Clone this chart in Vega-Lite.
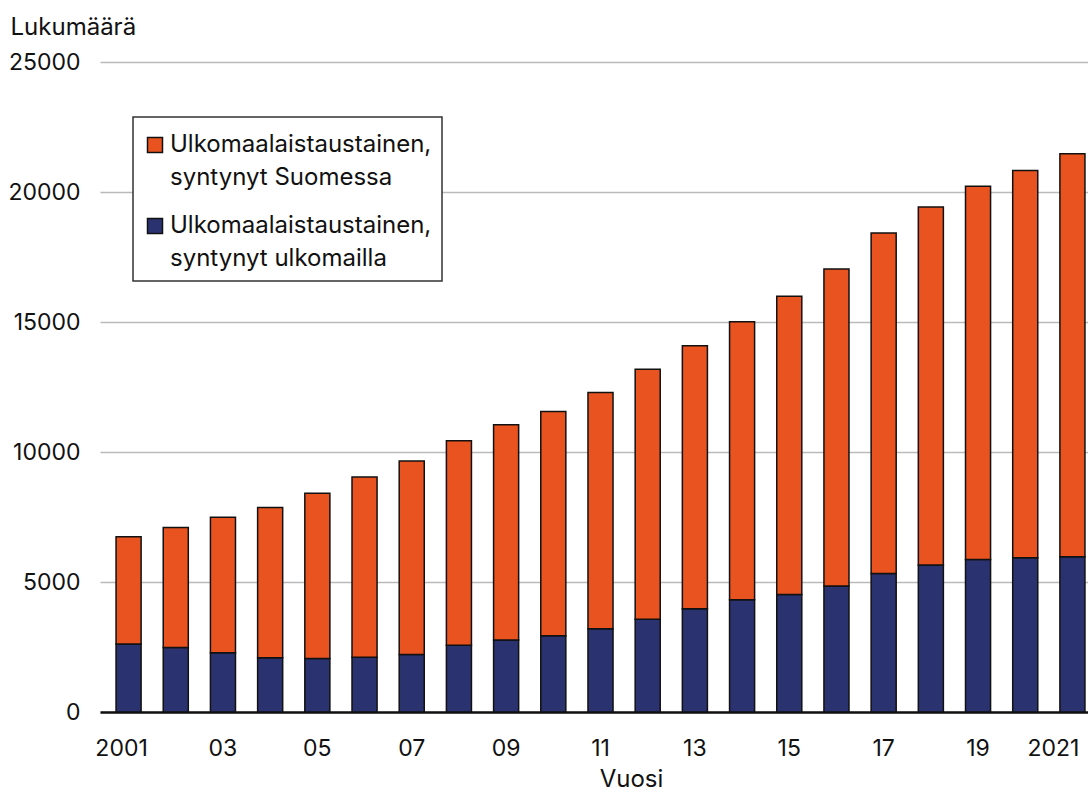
{
  "$schema": "https://vega.github.io/schema/vega-lite/v6.json",
  "autosize": {"type": "none"},
  "padding": {"left": 100, "top": 62, "right": 0, "bottom": 82},
  "width": 988,
  "height": 650,
  "background": "white",
  "config": {
    "font": "Inter",
    "view": {"stroke": null},
    "legend": {"strokeWidth": 1.5},
    "style": {"guide-label": {"lineHeight": 33}}
  },
  "data": {
    "values": [
      {"year": "2001", "series": "Ulkomaalaistaustainen, syntynyt ulkomailla", "value": 2620},
      {"year": "2001", "series": "Ulkomaalaistaustainen, syntynyt Suomessa", "value": 4120},
      {"year": "2002", "series": "Ulkomaalaistaustainen, syntynyt ulkomailla", "value": 2480},
      {"year": "2002", "series": "Ulkomaalaistaustainen, syntynyt Suomessa", "value": 4620},
      {"year": "2003", "series": "Ulkomaalaistaustainen, syntynyt ulkomailla", "value": 2280},
      {"year": "2003", "series": "Ulkomaalaistaustainen, syntynyt Suomessa", "value": 5210},
      {"year": "2004", "series": "Ulkomaalaistaustainen, syntynyt ulkomailla", "value": 2090},
      {"year": "2004", "series": "Ulkomaalaistaustainen, syntynyt Suomessa", "value": 5780},
      {"year": "2005", "series": "Ulkomaalaistaustainen, syntynyt ulkomailla", "value": 2060},
      {"year": "2005", "series": "Ulkomaalaistaustainen, syntynyt Suomessa", "value": 6350},
      {"year": "2006", "series": "Ulkomaalaistaustainen, syntynyt ulkomailla", "value": 2110},
      {"year": "2006", "series": "Ulkomaalaistaustainen, syntynyt Suomessa", "value": 6930},
      {"year": "2007", "series": "Ulkomaalaistaustainen, syntynyt ulkomailla", "value": 2210},
      {"year": "2007", "series": "Ulkomaalaistaustainen, syntynyt Suomessa", "value": 7440},
      {"year": "2008", "series": "Ulkomaalaistaustainen, syntynyt ulkomailla", "value": 2570},
      {"year": "2008", "series": "Ulkomaalaistaustainen, syntynyt Suomessa", "value": 7860},
      {"year": "2009", "series": "Ulkomaalaistaustainen, syntynyt ulkomailla", "value": 2770},
      {"year": "2009", "series": "Ulkomaalaistaustainen, syntynyt Suomessa", "value": 8280},
      {"year": "2010", "series": "Ulkomaalaistaustainen, syntynyt ulkomailla", "value": 2930},
      {"year": "2010", "series": "Ulkomaalaistaustainen, syntynyt Suomessa", "value": 8630},
      {"year": "2011", "series": "Ulkomaalaistaustainen, syntynyt ulkomailla", "value": 3200},
      {"year": "2011", "series": "Ulkomaalaistaustainen, syntynyt Suomessa", "value": 9090},
      {"year": "2012", "series": "Ulkomaalaistaustainen, syntynyt ulkomailla", "value": 3570},
      {"year": "2012", "series": "Ulkomaalaistaustainen, syntynyt Suomessa", "value": 9610},
      {"year": "2013", "series": "Ulkomaalaistaustainen, syntynyt ulkomailla", "value": 3970},
      {"year": "2013", "series": "Ulkomaalaistaustainen, syntynyt Suomessa", "value": 10120},
      {"year": "2014", "series": "Ulkomaalaistaustainen, syntynyt ulkomailla", "value": 4320},
      {"year": "2014", "series": "Ulkomaalaistaustainen, syntynyt Suomessa", "value": 10690},
      {"year": "2015", "series": "Ulkomaalaistaustainen, syntynyt ulkomailla", "value": 4520},
      {"year": "2015", "series": "Ulkomaalaistaustainen, syntynyt Suomessa", "value": 11470},
      {"year": "2016", "series": "Ulkomaalaistaustainen, syntynyt ulkomailla", "value": 4850},
      {"year": "2016", "series": "Ulkomaalaistaustainen, syntynyt Suomessa", "value": 12190},
      {"year": "2017", "series": "Ulkomaalaistaustainen, syntynyt ulkomailla", "value": 5330},
      {"year": "2017", "series": "Ulkomaalaistaustainen, syntynyt Suomessa", "value": 13090},
      {"year": "2018", "series": "Ulkomaalaistaustainen, syntynyt ulkomailla", "value": 5650},
      {"year": "2018", "series": "Ulkomaalaistaustainen, syntynyt Suomessa", "value": 13770},
      {"year": "2019", "series": "Ulkomaalaistaustainen, syntynyt ulkomailla", "value": 5870},
      {"year": "2019", "series": "Ulkomaalaistaustainen, syntynyt Suomessa", "value": 14350},
      {"year": "2020", "series": "Ulkomaalaistaustainen, syntynyt ulkomailla", "value": 5930},
      {"year": "2020", "series": "Ulkomaalaistaustainen, syntynyt Suomessa", "value": 14900},
      {"year": "2021", "series": "Ulkomaalaistaustainen, syntynyt ulkomailla", "value": 5970},
      {"year": "2021", "series": "Ulkomaalaistaustainen, syntynyt Suomessa", "value": 15500}
    ]
  },
  "mark": {"type": "bar", "stroke": "#111111", "strokeWidth": 1.5},
  "encoding": {
    "x": {
      "field": "year",
      "type": "ordinal",
      "scale": {"paddingInner": 0.469, "paddingOuter": 0.34, "range": [0, 1001]},
      "axis": {
        "title": "Vuosi",
        "titleFontSize": 24,
        "titleFontWeight": "normal",
        "titleColor": "#111111",
        "titleX": 531,
        "titleY": 67,
        "titleBaseline": "middle",
        "titleAnchor": null,
        "values": ["2001", "2003", "2005", "2007", "2009", "2011", "2013", "2015", "2017", "2019", "2021"],
        "labelExpr": "datum.value == '2001' || datum.value == '2021' ? datum.value : substring(datum.value, 2)",
        "labelOffset": {"condition": [{"test": "datum.value == '2001'", "value": -7}, {"test": "datum.value == '2021'", "value": -19}], "value": 0},
        "labelAngle": 0,
        "labelFontSize": 23,
        "labelColor": "#111111",
        "labelPadding": 25,
        "ticks": false,
        "domainColor": "#111111",
        "domainWidth": 2.5,
        "grid": false
      }
    },
    "y": {
      "field": "value",
      "type": "quantitative",
      "aggregate": "sum",
      "stack": "zero",
      "scale": {"domain": [0, 25000], "nice": false},
      "axis": {
        "title": "Lukumäärä",
        "titleAngle": 0,
        "titleFontSize": 24,
        "titleFontWeight": "normal",
        "titleColor": "#111111",
        "titleX": -90,
        "titleY": -35,
        "titleAlign": "left",
        "titleBaseline": "middle",
        "values": [0, 5000, 10000, 15000, 20000, 25000],
        "format": "d",
        "labelFontSize": 23,
        "labelColor": "#111111",
        "labelPadding": 20,
        "ticks": false,
        "domain": false,
        "grid": true,
        "gridColor": "#bababa",
        "gridWidth": 1.5
      }
    },
    "color": {
      "field": "series",
      "type": "nominal",
      "scale": {
        "domain": ["Ulkomaalaistaustainen, syntynyt Suomessa", "Ulkomaalaistaustainen, syntynyt ulkomailla"],
        "range": ["#E8531F", "#2B3270"]
      },
      "legend": {
        "title": " ",
        "titleFontSize": 2,
        "titlePadding": 4,
        "orient": "none",
        "legendX": 33,
        "legendY": 55,
        "fillColor": "white",
        "strokeColor": "#333333",
        "padding": 10,
        "symbolType": "square",
        "symbolSize": 225,
        "symbolStrokeColor": "#111111",
        "symbolStrokeWidth": 1.5,
        "labelExpr": "[substring(datum.label, 0, 22), substring(datum.label, 23)]",
        "labelFontSize": 24,
        "labelColor": "#111111",
        "labelLimit": 0,
        "labelOffset": 3,
        "labelBaseline": "middle",
        "rowPadding": 24
      }
    },
    "order": {"field": "series", "sort": "descending"}
  }
}
